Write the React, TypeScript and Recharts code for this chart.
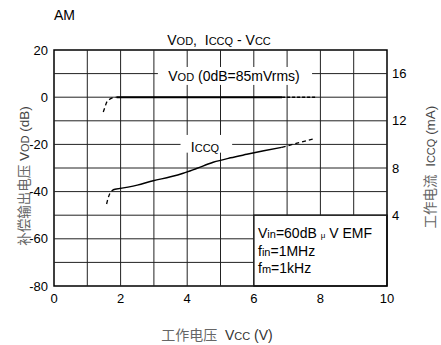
import React from 'react';
import { ComposedChart, Line, XAxis, YAxis, ReferenceLine, ReferenceArea } from 'recharts';

// Vcc (V) axis
const vccTicks = [0, 2, 4, 6, 8, 10];
const vccGrid = [1, 2, 3, 4, 5, 6, 7, 8, 9];
// VOD (dB) axis
const vodTicks = [20, 0, -20, -40, -60, -80];
const vodGrid = [10, 0, -10, -20, -30, -40, -50, -60, -70];
// ICCQ (mA) axis
const iccqTicks = [4, 8, 12, 16];

// VOD curve pieces
const vodRiseX = [1.48, 1.53, 1.58, 1.66, 1.75, 1.88];
const vodRiseY = [-6.3, -4.2, -2.2, -1.0, -0.3, 0];
const vodMainX = [1.88, 4, 6.85];
const vodMainY = [0, 0, 0];
const vodTailX = [6.85, 7.85];
const vodTailY = [0, 0];

// ICCQ curve pieces
const iccqRiseX = [1.58, 1.62, 1.68, 1.75, 1.83];
const iccqRiseY = [4.95, 5.4, 5.85, 6.1, 6.2];
const iccqMainX = [1.83, 2.5, 2.98, 3.5, 3.88, 4.3, 4.78, 5.3, 5.79, 6.3, 6.84];
const iccqMainY = [6.2, 6.55, 6.92, 7.25, 7.55, 7.98, 8.48, 8.86, 9.16, 9.46, 9.75];
const iccqTailX = [6.84, 7.3, 7.79];
const iccqTailY = [9.75, 10.1, 10.46];

// white areas behind the labels (V, dB) where the grid is left out
const LABEL_BOXES = [
  { x1: 3.12, x2: 7.75, y1: 5.2, y2: 12.8 },
  { x1: 3.8, x2: 5.35, y1: -23.5, y2: -16 },
  { x1: 6, x2: 10, y1: -80, y2: -50 },
];

const zip = (xs: number[], ys: number[]) => xs.map((x, i) => ({ x, y: ys[i] }));

// split [lo, hi] around the cut ranges
const pieces = (lo: number, hi: number, cuts: [number, number][]) => {
  const out: [number, number][] = [];
  let start = lo;
  cuts
    .slice()
    .sort((a, b) => a[0] - b[0])
    .forEach(([a, b]) => {
      if (a > start) out.push([start, a]);
      start = Math.max(start, b);
    });
  if (start < hi) out.push([start, hi]);
  return out;
};

const vSegments = vccGrid.flatMap((v) =>
  pieces(
    -80,
    20,
    LABEL_BOXES.filter((b) => b.x1 < v && v < b.x2).map((b) => [b.y1, b.y2] as [number, number])
  ).map(([a, b]) => [{ x: v, y: a }, { x: v, y: b }])
);
const hSegments = vodGrid.flatMap((v) =>
  pieces(
    0,
    10,
    LABEL_BOXES.filter((b) => b.y1 < v && v < b.y2).map((b) => [b.x1, b.x2] as [number, number])
  ).map(([a, b]) => [{ x: a, y: v }, { x: b, y: v }])
);

const FONT = '"Liberation Sans", Arial, sans-serif';
const CJK = '"Noto Sans CJK SC", sans-serif';
const SP = '\u00a0';

const App: React.FC = () => {
  return (
    <div style={{ position: 'absolute', left: 0, top: 0, width: 441, height: 345, background: '#fff' }}>
      <ComposedChart width={441} height={345} margin={{ top: 50, right: 0, bottom: 29, left: 0 }}>
        <XAxis
          type="number"
          dataKey="x"
          domain={[0, 10]}
          ticks={vccTicks}
          allowDataOverflow
          axisLine={false}
          tickLine={false}
          height={30}
          tick={{ fill: '#000', fontSize: 13, fontFamily: FONT }}
          tickMargin={2}
        />
        <YAxis
          yAxisId="vod"
          type="number"
          domain={[-80, 20]}
          ticks={vodTicks}
          allowDataOverflow
          axisLine={false}
          tickLine={false}
          width={54}
          tickSize={4}
          tickMargin={2}
          tick={{ fill: '#000', fontSize: 13, fontFamily: FONT }}
        />
        <YAxis
          yAxisId="iccq"
          orientation="right"
          type="number"
          domain={[-2, 18]}
          ticks={iccqTicks}
          allowDataOverflow
          axisLine={false}
          tickLine={false}
          width={54}
          tickSize={3}
          tickMargin={2}
          tick={{ fill: '#000', fontSize: 13, fontFamily: FONT }}
        />

        {vSegments.map((seg, i) => (
          <ReferenceLine key={`v${i}`} yAxisId="vod" segment={seg} stroke="#222" strokeWidth={1} />
        ))}
        {hSegments.map((seg, i) => (
          <ReferenceLine key={`h${i}`} yAxisId="vod" segment={seg} stroke="#222" strokeWidth={1} />
        ))}

        <ReferenceArea yAxisId="vod" x1={6} x2={10} y1={-80} y2={-50} fill="#fff" fillOpacity={1} stroke="#000" strokeWidth={1.2} />
        <ReferenceArea yAxisId="vod" x1={0} x2={10} y1={-80} y2={20} fill="none" stroke="#000" strokeWidth={1.5} />

        <Line yAxisId="vod" data={zip(vodRiseX, vodRiseY)} dataKey="y" type="monotone" stroke="#000" strokeWidth={1.3} strokeDasharray="4 3" dot={false} isAnimationActive={false} />
        <Line yAxisId="vod" data={zip(vodMainX, vodMainY)} dataKey="y" type="linear" stroke="#000" strokeWidth={2} dot={false} isAnimationActive={false} />
        <Line yAxisId="vod" data={zip(vodTailX, vodTailY)} dataKey="y" type="linear" stroke="#000" strokeWidth={1.5} strokeDasharray="3 2" dot={false} isAnimationActive={false} />

        <Line yAxisId="iccq" data={zip(iccqRiseX, iccqRiseY)} dataKey="y" type="monotone" stroke="#000" strokeWidth={1.3} strokeDasharray="4 3" dot={false} isAnimationActive={false} />
        <Line yAxisId="iccq" data={zip(iccqMainX, iccqMainY)} dataKey="y" type="monotone" stroke="#000" strokeWidth={1.5} dot={false} isAnimationActive={false} />
        <Line yAxisId="iccq" data={zip(iccqTailX, iccqTailY)} dataKey="y" type="monotone" stroke="#000" strokeWidth={1.3} strokeDasharray="4 3" dot={false} isAnimationActive={false} />
      </ComposedChart>

      <svg width={441} height={345} style={{ position: 'absolute', left: 0, top: 0, pointerEvents: 'none' }}>
        <g fontFamily={FONT} fill="#000">
          <text x={54} y={20} fontSize={14}>AM</text>
          <text x={219} y={45} fontSize={14} textAnchor="middle">
            V<tspan fontSize={11}>OD</tspan>,{SP}{SP}I<tspan fontSize={11}>CCQ</tspan> - V<tspan fontSize={11}>CC</tspan>
          </text>
          <text x={234} y={81} fontSize={14} textAnchor="middle">
            V<tspan fontSize={11}>OD</tspan> (0dB=85mVrms)
          </text>
          <text x={205} y={152} fontSize={14} textAnchor="middle">
            I<tspan fontSize={11}>CCQ</tspan>
          </text>
          <text x={258} y={238} fontSize={14}>
            V<tspan fontSize={11}>in</tspan>=60dB <tspan fontSize={8}>μ</tspan> V EMF
          </text>
          <text x={258} y={255.5} fontSize={14}>
            f<tspan fontSize={11}>in</tspan>=1MHz
          </text>
          <text x={258} y={273} fontSize={14}>
            f<tspan fontSize={11}>m</tspan>=1kHz
          </text>
          <text x={0} y={0} fontSize={13.5} textAnchor="middle" transform="translate(29,176) rotate(-90)" fill="#444">
            <tspan fontFamily={CJK} fill="#666">补偿输出电压</tspan>{SP}V<tspan fontSize={11}>OD</tspan> (dB)
          </text>
          <text x={0} y={0} fontSize={13.5} textAnchor="middle" transform="translate(435,167) rotate(-90)" fill="#444">
            <tspan fontFamily={CJK} fill="#666">工作电流</tspan>{SP}{SP}I<tspan fontSize={11}>CCQ</tspan> (mA)
          </text>
          <text x={217} y={340} fontSize={14} textAnchor="middle" fill="#333">
            <tspan fontFamily={CJK} fill="#666">工作电压</tspan>{SP}{SP}V<tspan fontSize={11}>CC</tspan> (V)
          </text>
        </g>
      </svg>
    </div>
  );
};

export default App;
